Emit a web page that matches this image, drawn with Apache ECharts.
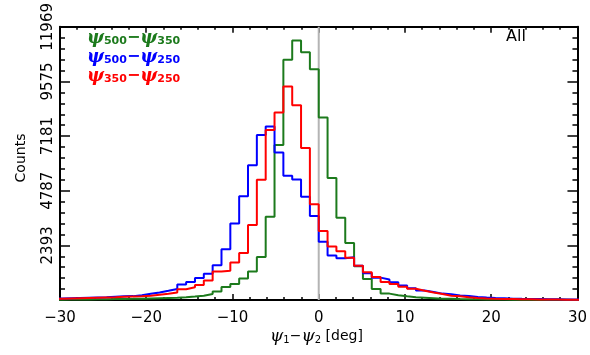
<!DOCTYPE html>
<html>
<head>
<meta charset="utf-8">
<script src="https://cdn.jsdelivr.net/npm/echarts@6/dist/echarts.min.js"></script>
<style>
html,body{margin:0;padding:0;background:#fff;}
#chart{width:590px;height:355px;}
</style>
</head>
<body>
<div id="chart"></div>
<script>
// ---- data ----
const binWidth = 1.025;      // histogram bin width (deg)
const firstBin = -30;        // index of first bin (bin k spans [k*w, (k+1)*w])
const xTicks = [-30, -20, -10, 0, 10, 20, 30];
const yTickLabels = ['2393', '4787', '7181', '9575', '11969'];
const yMax = 11969;
const zeroLine = 0;

// psi500 - psi350 (green)
const green = [15,20,20,25,30,35,40,45,50,60,
  70,80,90,100,120,150,190,262,372,570,
  697,937,1245,1879,3652,6796,10530,11376,10855,10107,
  7993,5343,3600,2500,1480,920,480,280,210,160,
  120,100,80,60,50,40,35,30,25,20,
  20,15,15,10,10,10,8,8,5,5];
// psi500 - psi250 (blue)
const blue = [70,80,90,100,110,120,140,160,170,210,
  274,329,401,486,684,794,963,1148,1528,2229,
  3357,4551,5903,7235,7600,6460,5450,5285,4526,3682,
  2554,1950,1830,1870,1499,1174,980,900,780,640,
  510,420,350,280,250,200,180,135,110,90,
  75,60,50,45,40,35,30,25,20,20];
// psi350 - psi250 (red)
const red = [60,70,80,90,100,110,120,140,150,160,
  190,232,274,329,473,557,654,850,1250,1280,
  1638,2060,3285,5269,7452,8212,9352,8537,6662,4201,
  3019,2343,2132,1850,1499,1216,1005,794,700,583,
  490,405,329,262,190,160,118,93,70,55,
  45,40,35,30,25,20,20,15,15,10];

function stepPoints(vals) {
  const pts = [];
  vals.forEach((v, i) => {
    const x0 = (firstBin + i) * binWidth;
    pts.push([x0, v]);
    pts.push([x0 + binWidth, v]);
  });
  return pts;
}

const FONT = 'DejaVu Sans';
const chart = echarts.init(document.getElementById('chart'), null, {renderer: 'canvas'});

const xCommon = {
  type: 'value', min: -30, max: 30, interval: 10,
  axisLine: {show: true, onZero: false, lineStyle: {color: '#000', width: 2}},
  axisTick: {show: true, inside: true, length: 6, lineStyle: {color: '#000', width: 1.5}},
  minorTick: {show: true, splitNumber: 5, length: 3, lineStyle: {color: '#000', width: 1.5}},
  splitLine: {show: false}, minorSplitLine: {show: false}
};
const yCommon = {
  type: 'value', min: 0, max: yMax, interval: yMax / 5,
  axisLine: {show: true, onZero: false, lineStyle: {color: '#000', width: 2}},
  axisTick: {show: true, inside: true, length: 10, lineStyle: {color: '#000', width: 1.5}},
  minorTick: {show: true, splitNumber: 5, length: 5, lineStyle: {color: '#000', width: 1.5}},
  splitLine: {show: false}, minorSplitLine: {show: false}
};

const legendRich = {
  p: {fontSize: 18, fontWeight: 'bold', fontStyle: 'italic', fontFamily: 'DejaVu Serif'},
  s: {fontSize: 11, fontWeight: 'bold', fontFamily: FONT, padding: [7, 0, 0, 0]},
  m: {fontSize: 16, fontWeight: 'bold', fontFamily: FONT}
};
function legendText(a, b, color, y) {
  const rich = {};
  Object.keys(legendRich).forEach(k => { rich[k] = Object.assign({}, legendRich[k], {fill: color}); });
  return {
    type: 'text', left: 87, top: y, z: 100,
    style: {text: '{p|ψ}{s|' + a + '}{m|\u2212}{p|ψ}{s|' + b + '}', rich: rich, fill: color}
  };
}

chart.setOption({
  animation: false,
  backgroundColor: '#fff',
  grid: {left: 60, right: 12, top: 17, bottom: 55, containLabel: false},
  xAxis: [
    Object.assign({}, xCommon, {position: 'bottom',
      axisLabel: {show: true, color: '#000', fontSize: 15, fontFamily: FONT, margin: 11,
        formatter: v => String(v).replace('-', '\u2212')}}),
    Object.assign({}, xCommon, {position: 'top', axisLabel: {show: false}})
  ],
  yAxis: [
    Object.assign({}, yCommon, {position: 'left',
      axisLabel: {show: true, color: '#000', fontSize: 15, fontFamily: FONT, rotate: 90, margin: 4,
        formatter: v => { const i = Math.round(v / (yMax / 5)); return i === 0 ? '' : yTickLabels[i - 1]; }}}),
    Object.assign({}, yCommon, {position: 'right', axisLabel: {show: false}})
  ],
  series: [
    {type: 'line', name: 'zero', data: [[zeroLine, 0], [zeroLine, yMax]], showSymbol: false, z: 1,
      lineStyle: {color: '#b4b4b4', width: 2}, silent: true},
    {type: 'line', name: 'psi500-psi350', data: stepPoints(green), showSymbol: false, z: 2,
      lineStyle: {color: '#1c7a1c', width: 2}, clip: true},
    {type: 'line', name: 'psi500-psi250', data: stepPoints(blue), showSymbol: false, z: 3,
      lineStyle: {color: '#0000ff', width: 2}, clip: true},
    {type: 'line', name: 'psi350-psi250', data: stepPoints(red), showSymbol: false, z: 4,
      lineStyle: {color: '#ff0000', width: 2}, clip: true}
  ],
  graphic: [
    legendText('500', '350', '#1c7a1c', 29),
    legendText('500', '250', '#0000ff', 48),
    legendText('350', '250', '#ff0000', 67),
    {type: 'text', left: 506, top: 29, style: {text: 'All', fontSize: 16, fontFamily: FONT, fill: '#000'}},
    {type: 'text', x: 21, y: 158, rotation: Math.PI / 2,
      style: {text: 'Counts', fontSize: 14, fontFamily: FONT, fill: '#000', align: 'center', verticalAlign: 'middle'}},
    {type: 'text', left: 270, top: 328,
      style: {text: '{p|ψ}{s|1}{m|\u2212}{p|ψ}{s|2}{t| [deg]}',
        rich: {
          p: {fontSize: 17, fontStyle: 'italic', fontFamily: 'DejaVu Serif', fill: '#000'},
          s: {fontSize: 10, fontFamily: FONT, fill: '#000', padding: [7, 0, 0, 0]},
          m: {fontSize: 14, fontFamily: FONT, fill: '#000'},
          t: {fontSize: 14, fontFamily: FONT, fill: '#000'}
        }}}
  ]
});
</script>
</body>
</html>
